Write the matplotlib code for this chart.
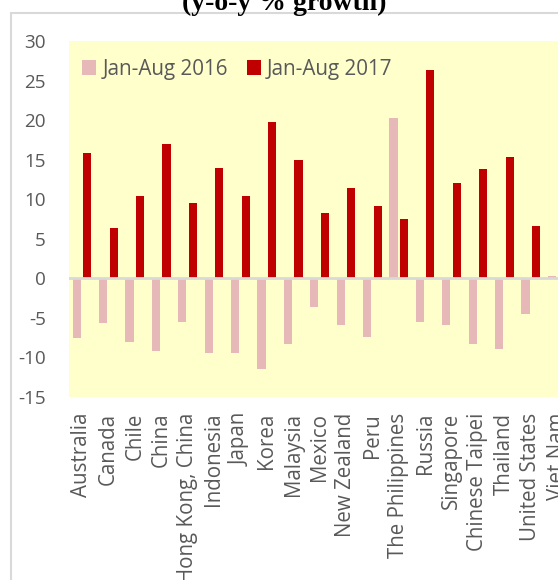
import matplotlib
matplotlib.use('Agg')
import matplotlib.pyplot as plt
import matplotlib.patches as patches
import numpy as np

# data (y-o-y % growth)
economies = ['Australia', 'Canada', 'Chile', 'China', 'Hong Kong, China', 'Indonesia',
             'Japan', 'Korea', 'Malaysia', 'Mexico', 'New Zealand', 'Peru',
             'The Philippines', 'Russia', 'Singapore', 'Chinese Taipei', 'Thailand',
             'United States', 'Viet Nam']
growth_2016 = [-7.5, -5.6, -8.0, -9.2, -5.5, -9.4, -9.5, -11.5, -8.3, -3.6, -5.9, -7.4,
               20.3, -5.5, -5.9, -8.3, -8.9, -4.5, 0.3]
growth_2017 = [15.9, 6.4, 10.4, 17.0, 9.5, 14.0, 10.4, 19.7, 15.0, 8.3, 11.4, 9.1,
               7.5, 26.3, 12.0, 13.8, 15.4, 6.6, 20.9]
yticks = [-15, -10, -5, 0, 5, 10, 15, 20, 25, 30]

col_2016 = '#E6B9B8'
col_2017 = '#C00000'
txt_col = '#595959'

W, H = 558, 580
fig = plt.figure(figsize=(W / 100, H / 100), dpi=100)

# outer chart border (cropped)
border = patches.Rectangle((11 / W, -0.1), 1.2, 1 - 13 / H + 0.1, transform=fig.transFigure,
                           fill=False, edgecolor='#d9d9d9', linewidth=1.5)
fig.add_artist(border)

# title, mostly cut off at the top
fig.text(284 / W, 1 - 9.5 / H, '(y-o-y % growth)', ha='center', va='baseline',
         fontsize=20, fontweight='bold', family='Liberation Serif', color='black')

left, right = 68.8 / W, 570.3 / W
top, bottom = 1 - 41 / H, 1 - 397 / H
ax = fig.add_axes([left, bottom, right - left, top - bottom])
ax.set_facecolor('#FFFFCC')

x = np.arange(len(economies))
w = 0.31
ax.bar(x - 0.2, growth_2016, w, color=col_2016, label='Jan-Aug 2016', zorder=2)
ax.bar(x + 0.2, growth_2017, w, color=col_2017, label='Jan-Aug 2017', zorder=2)
ax.axhline(0, color='#d9d9d9', linewidth=2, zorder=3)

ax.set_xlim(-0.5, len(economies) - 0.5)
ax.set_ylim(-15, 30)
ax.set_yticks(yticks)
ax.set_yticklabels([str(v) for v in yticks], family='Open Sans', fontsize=13.6, color=txt_col)
ax.set_xticks(x)
ax.set_xticklabels(economies, rotation=90, family='Open Sans', fontsize=14.8, color=txt_col)
ax.tick_params(axis='y', length=0, pad=16.5)
ax.tick_params(axis='x', length=0, pad=11.5)
for s in ax.spines.values():
    s.set_visible(False)

leg = ax.legend(loc='upper left', bbox_to_anchor=(0.027, 0.95), ncol=2, frameon=False,
                prop={'family': 'Open Sans', 'size': 14.9}, handlelength=0.68,
                handleheight=0.68, handletextpad=0.3, columnspacing=0.9,
                borderpad=0, borderaxespad=0)
for t in leg.get_texts():
    t.set_color(txt_col)

fig.savefig('out.png', dpi=100)
